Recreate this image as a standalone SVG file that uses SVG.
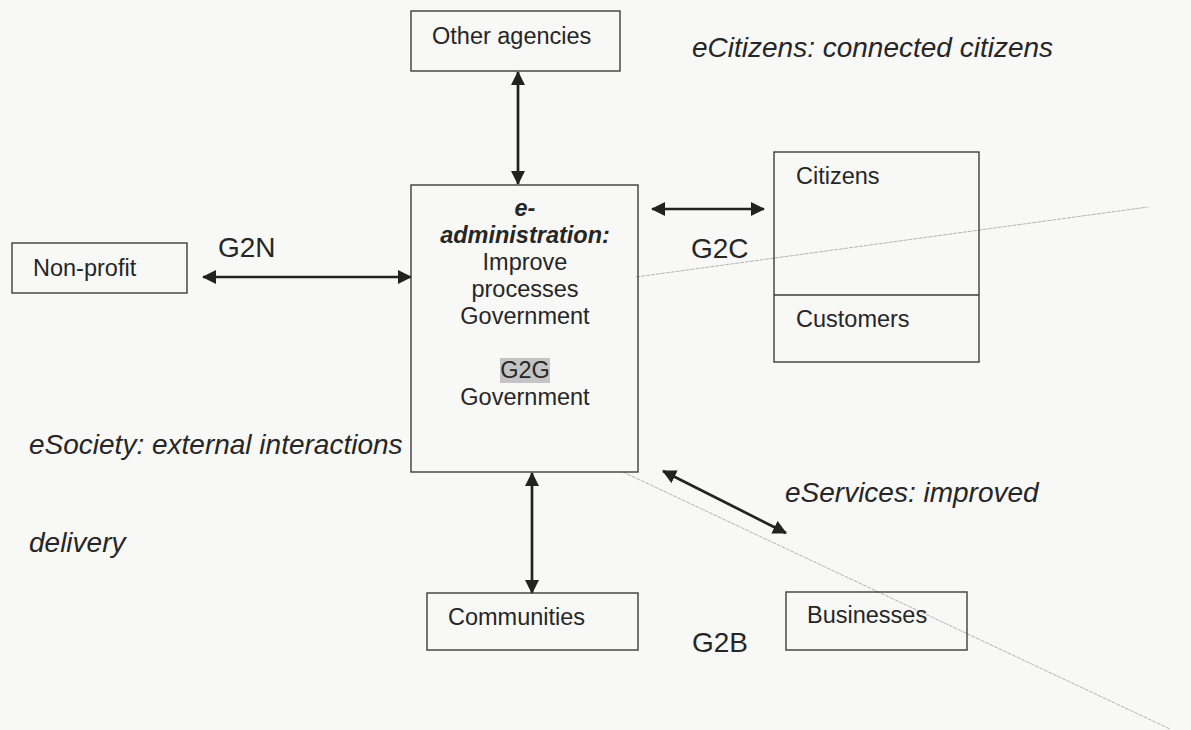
<svg xmlns="http://www.w3.org/2000/svg" width="1191" height="730" viewBox="0 0 1191 730">
  <defs>
    <marker id="head" viewBox="0 0 14 14" markerWidth="14" markerHeight="14" refX="13" refY="7" orient="auto-start-reverse" markerUnits="userSpaceOnUse">
      <path d="M0,0 L14,7 L0,14 z" fill="#222"/>
    </marker>
    <style>
      .box { fill: none; stroke: #3c3c3c; stroke-width: 1.4; }
      .t { font-family: "Liberation Sans", Arial, sans-serif; font-size: 23.5px; fill: #262626; }
      .big { font-family: "Liberation Sans", Arial, sans-serif; font-size: 28px; fill: #262626; }
      .it { font-family: "Liberation Sans", Arial, sans-serif; font-size: 28px; font-style: italic; fill: #262626; }
      .arrow { stroke: #222; stroke-width: 2.7; fill: none; marker-start: url(#head); marker-end: url(#head); }
      .faint { stroke: #b4b4b4; stroke-width: 1; stroke-dasharray: 4 1; fill: none; }
    </style>
  </defs>

  <rect x="0" y="0" width="1191" height="730" fill="#f8f8f6"/>

  <!-- faint diagonal strokes -->
  <g id="faint-lines">
    <line class="faint" x1="636" y1="277" x2="1148" y2="207"/>
    <line class="faint" x1="623" y1="472" x2="1170" y2="729"/>
  </g>

  <!-- connectors -->
  <g id="connectors">
    <line class="arrow" x1="518" y1="72" x2="518" y2="184"/>
    <line class="arrow" x1="203" y1="277" x2="411" y2="277"/>
    <line class="arrow" x1="652" y1="209" x2="764" y2="209"/>
    <line class="arrow" x1="532" y1="473" x2="532" y2="593"/>
    <line class="arrow" x1="663" y1="471" x2="786" y2="533"/>
  </g>

  <g id="other-agencies">
    <rect class="box" x="411" y="11" width="209" height="60"/>
    <text class="t" x="432" y="44">Other agencies</text>
  </g>

  <g id="e-administration">
    <rect class="box" x="411" y="185" width="227" height="287"/>
    <rect x="500" y="358" width="50" height="25" fill="#c4c4c4"/>
    <g class="t" text-anchor="middle">
      <text x="525" y="216" font-weight="bold" font-style="italic">e-</text>
      <text x="525" y="243" font-weight="bold" font-style="italic">administration:</text>
      <text x="525" y="270">Improve</text>
      <text x="525" y="297">processes</text>
      <text x="525" y="324">Government</text>
      <text x="525" y="378">G2G</text>
      <text x="525" y="405">Government</text>
    </g>
  </g>

  <g id="non-profit">
    <rect class="box" x="12" y="243" width="175" height="50"/>
    <text class="t" x="33" y="276">Non-profit</text>
  </g>

  <g id="citizens-customers">
    <rect class="box" x="774" y="152" width="205" height="210"/>
    <line class="box" x1="774" y1="295" x2="979" y2="295"/>
    <text class="t" x="796" y="184">Citizens</text>
    <text class="t" x="796" y="327">Customers</text>
  </g>

  <g id="communities">
    <rect class="box" x="427" y="593" width="211" height="57"/>
    <text class="t" x="448" y="625">Communities</text>
  </g>

  <g id="businesses">
    <rect class="box" x="786" y="592" width="181" height="58"/>
    <text class="t" x="807" y="623">Businesses</text>
  </g>

  <!-- relationship labels -->
  <g id="labels">
    <text class="big" x="218" y="257">G2N</text>
    <text class="big" x="691" y="258">G2C</text>
    <text class="big" x="692" y="652">G2B</text>
    <text class="it" x="692" y="57">eCitizens: connected citizens</text>
    <text class="it" x="29" y="454">eSociety: external interactions</text>
    <text class="it" x="29" y="552">delivery</text>
    <text class="it" x="785" y="502">eServices: improved</text>
  </g>
</svg>
